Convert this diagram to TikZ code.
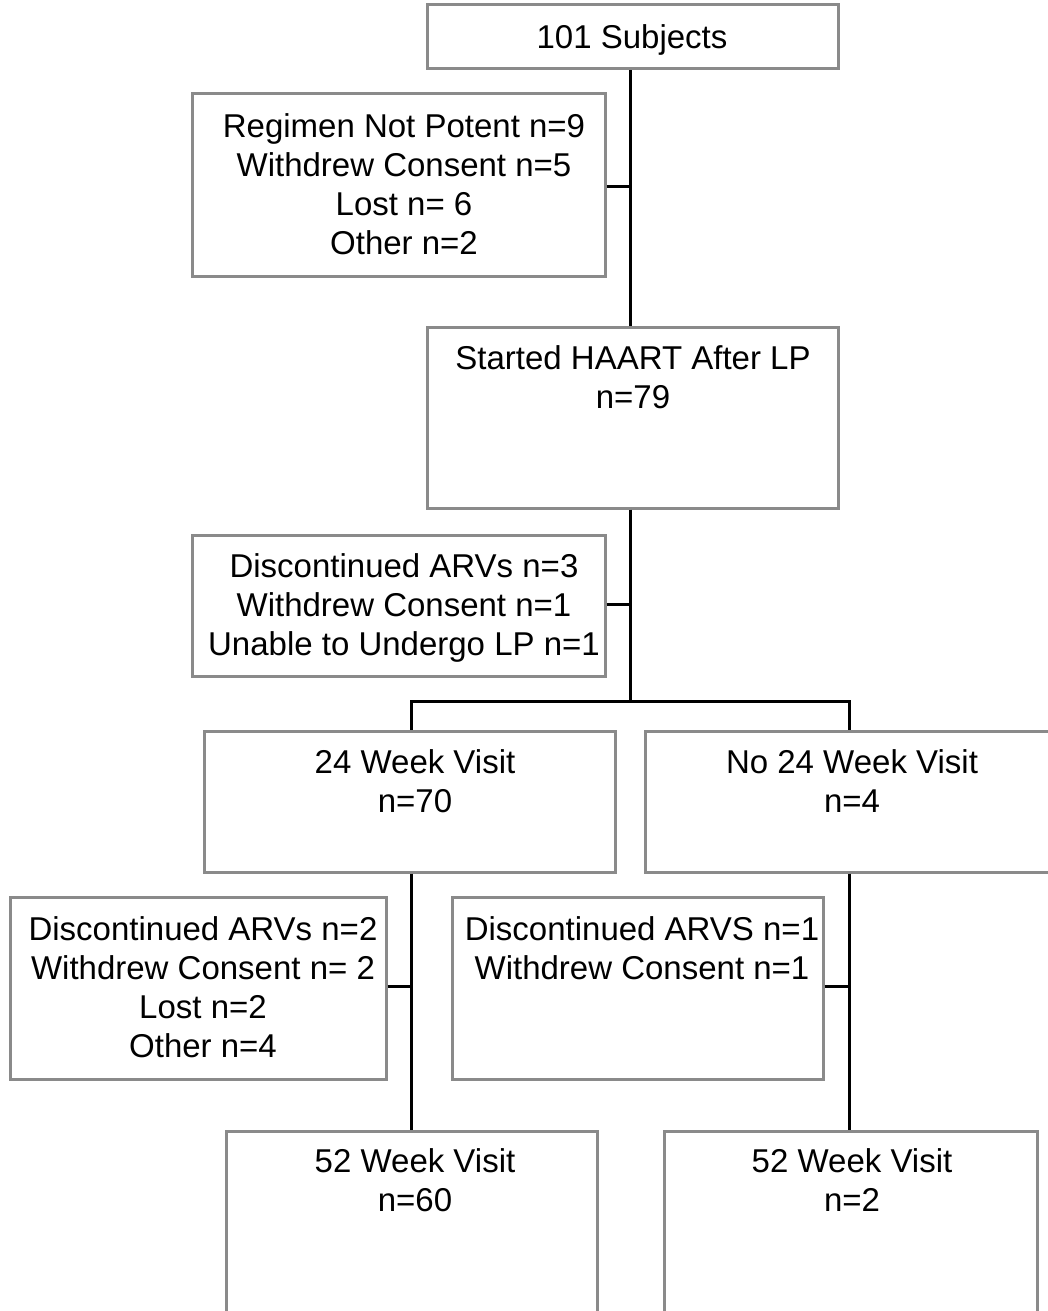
\documentclass[tikz,border=0pt]{standalone}
\usepackage{fontspec}
\setmainfont{Liberation Sans}
\begin{document}
\begin{tikzpicture}[x=1pt,y=-1pt,
  boxst/.style={draw=boxgray,line width=3pt,fill=white},
  txt/.style={font=\fontsize{33}{39}\selectfont,align=center,anchor=north,inner sep=0pt},
  conn/.style={draw=black,line width=3pt}]
\definecolor{boxgray}{HTML}{8A8A8A}
\clip (0,0) rectangle (1048,1311);
\useasboundingbox (0,0) rectangle (1048,1311);
% boxes
\node[boxst,minimum width=411pt,minimum height=64pt,inner sep=0pt] (b1) at (632.5,37) {};
\node[boxst,minimum width=413pt,minimum height=182pt,inner sep=0pt] (e1) at (398.5,185) {};
\node[boxst,minimum width=411pt,minimum height=181pt,inner sep=0pt] (b2) at (632.5,417.5) {};
\node[boxst,minimum width=413pt,minimum height=141pt,inner sep=0pt] (e2) at (398.5,605.5) {};
\node[boxst,minimum width=411pt,minimum height=141pt,inner sep=0pt] (b3) at (409.5,801.5) {};
\node[boxst,minimum width=415pt,minimum height=141pt,inner sep=0pt] (b4) at (852.5,801.5) {};
\node[boxst,minimum width=376pt,minimum height=182pt,inner sep=0pt] (e3) at (198,988) {};
\node[boxst,minimum width=371pt,minimum height=182pt,inner sep=0pt] (e4) at (637.5,988) {};
\node[boxst,minimum width=371pt,minimum height=184pt,inner sep=0pt] (b5) at (411.5,1223) {};
\node[boxst,minimum width=373pt,minimum height=184pt,inner sep=0pt] (b6) at (850.5,1223) {};
% texts
\node[txt] (t1) at (632,24) {101 Subjects};
\node[txt] (t2) at (404,113) {Regimen Not Potent n=9\\Withdrew Consent n=5\\Lost n= 6\\Other n=2};
\node[txt] (t3) at (633,345) {Started HAART After LP\\n=79};
\node[txt] (t4) at (404,553) {Discontinued ARVs n=3\\Withdrew Consent n=1\\Unable to Undergo LP n=1};
\node[txt] (t5) at (415,749) {24 Week Visit\\n=70};
\node[txt] (t6) at (852,749) {No 24 Week Visit\\n=4};
\node[txt] (t7) at (203,916) {Discontinued ARVs n=2\\Withdrew Consent n= 2\\Lost n=2\\Other n=4};
\node[txt] (t8) at (642,916) {Discontinued ARVS n=1\\Withdrew Consent n=1};
\node[txt] (t9) at (415,1148) {52 Week Visit\\n=60};
\node[txt] (t10) at (852,1148) {52 Week Visit\\n=2};
% junction coordinates
\coordinate (j1) at (630,186);
\coordinate (j2) at (630,604);
\coordinate (j3) at (630,701);
\coordinate (jl) at (411,701);
\coordinate (jr) at (849,701);
\coordinate (j4) at (411,986);
\coordinate (j5) at (849,986);
% connectors
\draw[conn] (b1.south -| j1) -- (b2.north -| j1);
\draw[conn] (e1.east |- j1) -- (j1);
\draw[conn] (b2.south -| j2) -- (j3);
\draw[conn] (e2.east |- j2) -- (j2);
\draw[conn] (b3.north -| jl) -- (jl) -- (jr) -- (b4.north -| jr);
\draw[conn] (b3.south -| j4) -- (b5.north -| j4);
\draw[conn] (e3.east |- j4) -- (j4);
\draw[conn] (b4.south -| j5) -- (b6.north -| j5);
\draw[conn] (e4.east |- j5) -- (j5);
\end{tikzpicture}
\end{document}
